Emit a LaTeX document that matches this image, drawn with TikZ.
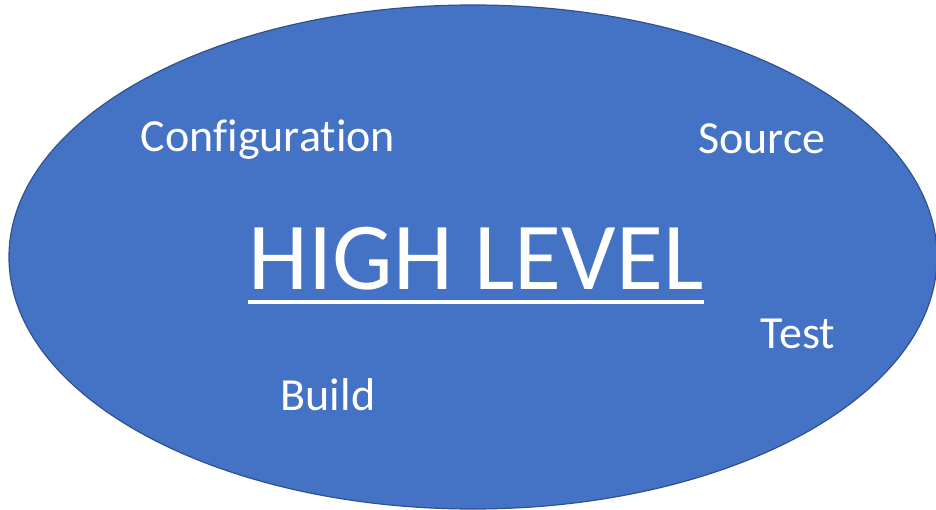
\documentclass[tikz,border=0pt]{standalone}
\usepackage{fontspec}
\setmainfont{Carlito}[Ligatures=NoCommon]
\usepackage{tikz}
\usetikzlibrary{shapes.geometric}
\usetikzlibrary{positioning}
\definecolor{ovalblue}{HTML}{4472C4}
\definecolor{ovaledge}{HTML}{2F528F}
\tikzstyle{oval} = [ellipse,draw=ovaledge,fill=ovalblue,line width=1.2pt,inner sep=0pt]
\tikzstyle{word} = [text=white,inner sep=0pt,anchor=base]

\begin{document}
\begin{tikzpicture}[x=1pt,y=-1pt]
	\useasboundingbox (0,0) rectangle (936,510);
	\node[oval,minimum width=928pt,minimum height=504pt] (ov) at (473,257) {};
	
	\node[word,font=\fontsize{46}{50}\selectfont] (co) at (268,152) {Configuration};
	\node[word,font=\fontsize{46}{50}\selectfont] (so) at (762,154) {Source};
	\node[word,font=\fontsize{46}{50}\selectfont] (te) at (798,348) {Test};
	\node[word,font=\fontsize{46}{50}\selectfont] (bu) at (328,410) {Build};
	
	\node[word,font=\fontsize{96}{100}\selectfont] (hl) at (476,290) {HIGH LEVEL};
	\path (hl.base west) ++(0,12) coordinate (ul1)
		(hl.base east) ++(0,12) coordinate (ul2);
	\draw[white,line width=4.5pt] (ul1) -- (ul2);
\end{tikzpicture}
\end{document}
